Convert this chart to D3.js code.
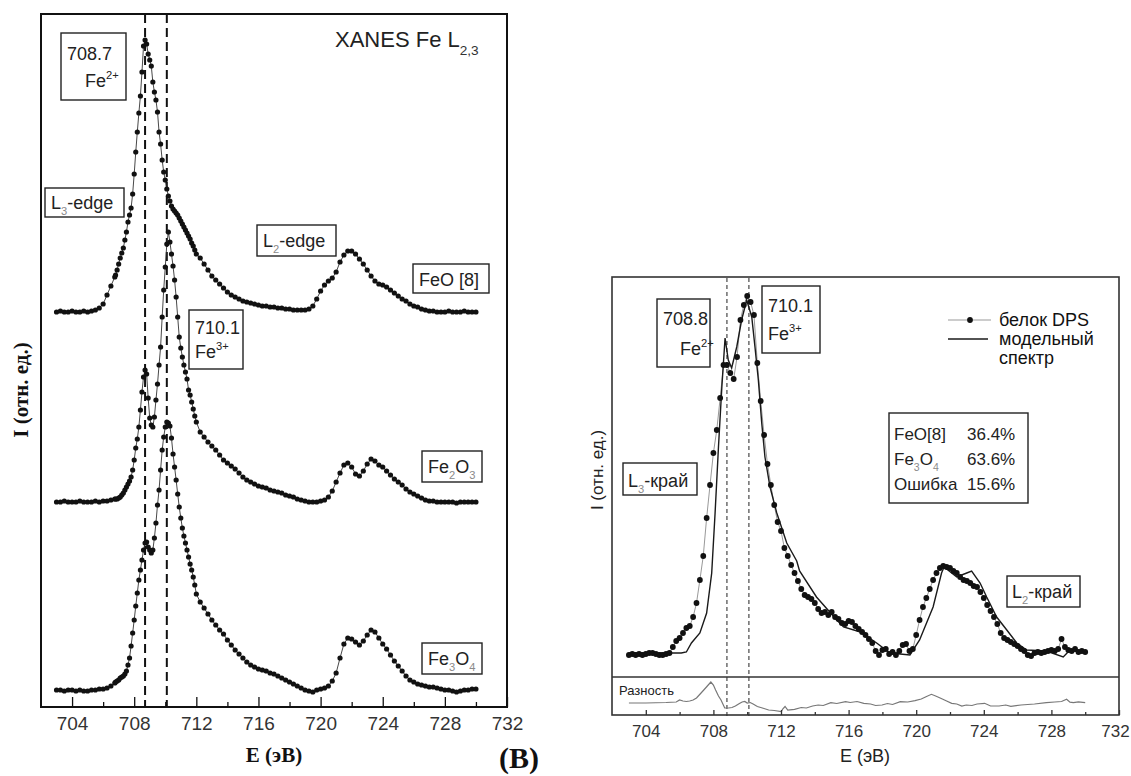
<!DOCTYPE html>
<html>
<head>
<meta charset="utf-8">
<script src="https://cdn.jsdelivr.net/npm/d3@7"></script>
<style>
  body { margin: 0; background: #fff; }
  svg { display: block; }
</style>
</head>
<body>
<svg id="chart" width="1131" height="776"></svg>
<script>
// ---------- data: left panel (reference spectra, shared energy grid) ----------
const energyL = [
  703, 703.25, 703.5, 703.75, 704, 704.25, 704.5, 704.75, 705, 705.25, 705.5, 705.75, 706, 706.25, 706.5, 706.75,
  706.8, 706.9,
  707, 707.1, 707.2, 707.3, 707.4, 707.5, 707.6, 707.7, 707.8, 707.9,
  708, 708.1, 708.2, 708.3, 708.4, 708.5, 708.6, 708.7, 708.8, 708.9,
  709, 709.1, 709.2, 709.3, 709.4, 709.5, 709.6, 709.7, 709.8, 709.9,
  710, 710.1, 710.2, 710.3, 710.4, 710.5, 710.6, 710.7, 710.8, 710.9,
  711, 711.1, 711.2, 711.3, 711.4, 711.5, 711.6, 711.7, 711.8, 711.9,
  712,
  712.25, 712.5, 712.75, 713, 713.25, 713.5, 713.75, 714, 714.25, 714.5, 714.75, 715, 715.25, 715.5, 715.75,
  716, 716.25, 716.5, 716.75, 717, 717.25, 717.5, 717.75, 718, 718.25, 718.5, 718.75, 719, 719.25, 719.5, 719.75,
  720, 720.25, 720.5, 720.75, 721, 721.25, 721.5, 721.75, 722, 722.25, 722.5, 722.75, 723, 723.25, 723.5, 723.75,
  724, 724.25, 724.5, 724.75, 725, 725.25, 725.5, 725.75, 726, 726.25, 726.5, 726.75, 727, 727.25, 727.5, 727.75,
  728, 728.25, 728.5, 728.75, 729, 729.25, 729.5, 729.75, 730
];

const feo = [
  0, 1, 0, 0, 1, 0, 0, 1, 0, 1, 2, 4, 8, 17, 26, 35,
  37, 42,
  48, 54, 59, 64, 72, 80, 90, 97, 104, 118,
  138, 160, 180, 199, 216, 240, 266, 272, 268, 258,
  252, 246, 230, 220, 212, 200, 180, 168, 152, 140,
  132, 123, 116, 111, 106, 103, 101, 99, 97, 94,
  91, 88, 85, 82, 79, 76, 73, 69, 66, 62,
  58,
  54, 48, 42, 36, 32, 28, 24, 20, 17, 15, 13, 11, 10, 9, 8,
  7, 6, 6, 5, 5, 4, 4, 3, 3, 2, 2, 2, 2, 3, 6, 13,
  21, 27, 31, 34, 40, 50, 57, 61, 61, 58, 53, 48, 42, 36, 31, 28,
  27, 25, 22, 19, 16, 13, 11, 8, 6, 5, 3, 2, 1, 1, 0, 0,
  0, 1, 0, 0, 0, 1, 0, 0, 0
];

const fe2o3 = [
  0, 0, 1, 0, 0, 0, 1, 0, 0, 0, 1, 0, 1, 1, 2, 3,
  3, 3,
  4, 5, 7, 9, 12, 15, 18, 21, 25, 32,
  42, 54, 63, 75, 92, 110, 125, 132, 128, 104,
  84, 77, 75, 85, 102, 118, 137, 155, 185, 212,
  235, 258, 270, 260, 248, 236, 222, 205, 185, 165,
  154, 145, 137, 130, 123, 112, 107, 100, 93, 86,
  80,
  70, 65, 60, 56, 52, 47, 42, 39, 36, 33, 29, 25, 22, 20, 18,
  16, 15, 14, 12, 11, 10, 9, 7, 6, 5, 3, 2, 1, 0, 0, 0,
  1, 2, 5, 11, 20, 29, 37, 39, 35, 28, 26, 31, 38, 43, 41, 37,
  35, 31, 27, 23, 20, 17, 13, 10, 8, 6, 4, 2, 1, 1, 0, 0,
  0, 0, 0, -1, 0, 0, 0, 0, 0
];

const fe3o4 = [
  0, 0, -1, 0, 0, -1, 0, -1, -1, 0, 0, 1, 1, 2, 4, 7,
  8, 9,
  10, 12, 13, 14, 16, 19, 25, 32, 44, 57,
  70, 84, 97, 110, 120, 130, 140, 147, 148, 143,
  140, 137, 140, 152, 167, 185, 200, 220, 240, 253,
  263, 268, 267, 264, 252, 236, 223, 210, 196, 183,
  172, 162, 154, 147, 140, 133, 126, 120, 113, 105,
  96,
  88, 82, 76, 70, 65, 60, 56, 50, 45, 40, 36, 32, 28, 25, 23,
  21, 20, 19, 17, 16, 14, 12, 10, 8, 6, 4, 2, 0, -1, -2, 0,
  1, 2, 4, 9, 17, 32, 46, 52, 51, 48, 45, 49, 55, 60, 58, 52,
  46, 41, 35, 29, 24, 19, 14, 10, 8, 6, 5, 4, 3, 3, 2, 1,
  0, 0, -1, -2, -1, 0, 0, 1, 1
];

const seriesNames = ["FeO [8]", "Fe2O3", "Fe3O4"];
const seriesOffsets = [395, 205, 17];

// ---------- data: right panel (DPS protein, model, difference) ----------
const dps = [
  [703.0, -2], [703.2, -1], [703.4, -2], [703.6, -1], [703.8, -2], [704.0, -1], [704.2, 0], [704.4, 0],
  [704.6, -1], [704.8, -2], [705.0, -2], [705.2, -1], [705.4, 0], [705.6, 6], [705.8, 12], [706.0, 15],
  [706.2, 20], [706.4, 25], [706.6, 27], [706.8, 36], [707.0, 50], [707.2, 73], [707.4, 97], [707.6, 135],
  [707.8, 168], [708.0, 200], [708.2, 223], [708.4, 255], [708.6, 288], [708.8, 288], [709.0, 280], [709.2, 274],
  [709.4, 296], [709.6, 333], [709.8, 348], [710.0, 357], [710.2, 351], [710.4, 338], [710.6, 290], [710.8, 252],
  [711.0, 218], [711.2, 189], [711.4, 168], [711.6, 148], [711.8, 131], [712.0, 122], [712.2, 105], [712.4, 97],
  [712.6, 88], [712.8, 80], [713.0, 72], [713.2, 64], [713.4, 58], [713.6, 56], [713.8, 54], [714.0, 50],
  [714.2, 44], [714.4, 40], [714.6, 41], [714.8, 38], [715.0, 41], [715.2, 36], [715.4, 34], [715.6, 30],
  [715.8, 29], [716.0, 32], [716.2, 31], [716.4, 27], [716.6, 24], [716.8, 21], [717.0, 18], [717.2, 14],
  [717.4, 10], [717.6, 2], [717.8, -2], [718.0, 3], [718.2, 4], [718.4, -1], [718.6, 1], [718.8, -2],
  [719.0, 2], [719.2, 8], [719.4, 9], [719.6, 2], [719.8, 4], [720.0, 18], [720.2, 33], [720.4, 46],
  [720.6, 55], [720.8, 64], [721.0, 73], [721.2, 80], [721.4, 85], [721.6, 87], [721.8, 86], [722.0, 85],
  [722.2, 82], [722.4, 80], [722.6, 76], [722.8, 73], [723.0, 72], [723.2, 70], [723.4, 67], [723.6, 66],
  [723.8, 61], [724.0, 55], [724.2, 48], [724.4, 42], [724.6, 36], [724.8, 29], [725.0, 20], [725.2, 15],
  [725.4, 13], [725.6, 11], [725.8, 9], [726.0, 7], [726.2, 4], [726.4, 2], [726.6, -2], [726.8, -3],
  [727.0, 0], [727.2, 1], [727.4, 0], [727.6, 1], [727.8, 2], [728.0, 3], [728.2, 2], [728.4, 4],
  [728.6, 14], [728.8, 6], [729.0, 3], [729.2, 2], [729.4, 4], [729.6, 1], [729.8, 2], [730.0, 1]
];

const model = [
  [703, 0], [706.1, 0], [706.4, 1], [706.7, 10], [707.2, 20], [707.6, 40], [707.9, 80], [708.1, 140],
  [708.3, 206], [708.5, 266], [708.69, 315], [708.88, 293], [709.08, 285], [709.38, 306], [709.67, 333],
  [709.97, 353], [710.27, 336], [710.46, 306], [710.66, 273], [710.86, 230], [711.05, 196], [711.35, 166],
  [711.75, 140], [712.34, 110], [712.93, 92], [713.1, 82], [714.1, 56], [715.3, 33], [715.7, 26], [716.7, 21],
  [717.66, 10], [718.45, 0], [719.63, -2], [720.2, 13], [721.0, 46], [721.5, 80], [721.65, 86], [722.4, 76],
  [722.99, 80], [723.28, 82], [723.78, 70], [724.17, 56], [724.76, 36], [725.36, 23], [725.95, 10],
  [726.54, 3], [727.7, 2], [728.7, -4], [729.1, 3], [730, 0]
];

const diff = [
  [703.0, 0], [704.0, 0], [705.2, 0.5], [705.8, 1], [706.0, 3], [706.2, 2], [706.4, 1.5], [706.6, 2],
  [706.8, 3], [707.0, 5], [707.27, 10], [707.59, 16], [707.85, 21], [708.0, 18], [708.13, 13], [708.3, 7],
  [708.45, 3], [708.67, -5], [708.9, -5], [709.1, -4.5], [709.3, -3], [709.54, -0.5], [709.7, 1], [709.86, 1.5],
  [710.0, 0], [710.18, 0.5], [710.35, -1], [710.6, -3.5], [710.9, -5], [711.27, -7], [711.6, -7.5], [712.02, -8.5],
  [712.1, -6], [712.24, -3.5], [712.4, -7], [712.8, -6.3], [713.2, -4.5], [713.5, -5], [713.87, -3], [714.2, -2],
  [714.5, -2.5], [714.95, 0.3], [715.3, -0.5], [715.82, 1.3], [716.1, 0.5], [716.5, 1.5], [716.9, -0.3], [717.3, -1],
  [717.6, -2.5], [717.98, -2], [718.3, -0.5], [718.6, -1.5], [719.06, 1.3], [719.5, 1], [719.93, 2.3], [720.3, 4],
  [720.58, 6.3], [720.9, 8.7], [721.15, 7], [721.45, 4.7], [721.8, 2], [722.1, -0.3], [722.4, -1], [722.7, -3],
  [722.96, -2], [723.3, -2.5], [723.6, -1], [724.05, -0.3], [724.4, -3], [724.9, -3], [725.3, -2], [725.6, -3.3],
  [726.2, -2], [726.6, -1.5], [727.0, -1], [727.7, 0.3], [728.2, 1], [728.6, 1.5], [728.9, 3.7], [729.1, 0.8],
  [729.3, 0.3], [729.6, 1.2], [730.0, 0.3]
];

const peaksL = [708.7, 710.1];
const peaksR = [708.8, 710.1];
const majorTicks = [704, 708, 712, 716, 720, 724, 728, 732];
const minorTicks = [706, 710, 714, 718, 722, 726, 730];
const fitRows = [["FeO[8]", "36.4%"], ["Fe3O4", "63.6%"], ["Ошибка", "15.6%"]];

// ---------- drawing ----------
const sans = "'Liberation Sans', Arial, sans-serif";
const serif = "'Liberation Serif', 'Times New Roman', serif";
const svg = d3.select("#chart");
svg.append("rect").attr("width", 1131).attr("height", 776).attr("fill", "#fff");

const xL = d3.scaleLinear().domain([702, 732]).range([41, 507]);
const yL = d3.scaleLinear().domain([0, 693]).range([707, 14]);
const xR = d3.scaleLinear().domain([702, 732]).range([612, 1119]);
const yR = d3.scaleLinear().domain([-24, 376]).range([677, 277]);
const yD = d3.scaleLinear().domain([-12, 26]).range([715, 677]);

// text with sub/superscripts: parts = [[text, ""|"sub"|"sup"], ...]
function rich(sel, x, y, parts, size, opts = {}) {
  const t = sel.append("text")
    .attr("x", x).attr("y", y)
    .attr("font-family", opts.family || sans)
    .attr("font-size", size)
    .attr("fill", opts.fill || "#222")
    .attr("text-anchor", opts.anchor || "start");
  let shift = 0;
  parts.forEach(([s, kind]) => {
    const target = kind === "sub" ? size * 0.35 : kind === "sup" ? -size * 0.45 : 0;
    t.append("tspan")
      .attr("dy", target - shift)
      .attr("font-size", kind ? size * 0.62 : size)
      .attr("fill", kind === "sub" ? (opts.subFill || "#8a8a8a") : null)
      .text(s);
    shift = target;
  });
  return t;
}

function box(sel, x0, y0, x1, y1, w) {
  sel.append("rect")
    .attr("x", x0).attr("y", y0)
    .attr("width", x1 - x0).attr("height", y1 - y0)
    .attr("fill", "#fff").attr("stroke", "#222").attr("stroke-width", w || 1.4);
}

function bottomTicks(sel, x, y0, lenMaj, lenMin, size, stroke) {
  sel.append("g")
    .attr("transform", `translate(0,${y0})`)
    .call(d3.axisBottom(x).tickValues(minorTicks).tickSize(-lenMin).tickFormat(""))
    .call(g => g.select(".domain").remove())
    .call(g => g.selectAll("line").attr("stroke", stroke).attr("stroke-width", 1.3));
  return sel.append("g")
    .attr("transform", `translate(0,${y0})`)
    .call(d3.axisBottom(x).tickValues(majorTicks).tickSize(-lenMaj).tickPadding(10).tickFormat(d3.format("d")))
    .call(g => g.select(".domain").remove())
    .call(g => g.selectAll("line").attr("stroke", stroke).attr("stroke-width", 1.3))
    .call(g => g.selectAll("text").attr("font-family", sans).attr("font-size", size).attr("fill", "#333"));
}

// ===== left panel =====
const left = svg.append("g");

left.append("g")
  .selectAll("line")
  .data(peaksL)
  .join("line")
    .attr("x1", d => xL(d)).attr("x2", d => xL(d))
    .attr("y1", 14).attr("y2", 707)
    .attr("stroke", "#111").attr("stroke-width", 2).attr("stroke-dasharray", "9,5");

[feo, fe2o3, fe3o4].forEach((vals, i) => {
  const pts = energyL.map((e, j) => [e, vals[j] + seriesOffsets[i]]);
  const g = left.append("g").attr("class", "series").attr("data-name", seriesNames[i]);
  g.append("path")
    .attr("d", d3.line().x(d => xL(d[0])).y(d => yL(d[1]))(pts))
    .attr("fill", "none").attr("stroke", "#333").attr("stroke-width", 0.9);
  g.selectAll("circle")
    .data(pts)
    .join("circle")
      .attr("cx", d => xL(d[0]))
      .attr("cy", d => yL(d[1]))
      .attr("r", 2.6)
      .attr("fill", "#111");
});

left.append("rect")
  .attr("x", 41).attr("y", 14).attr("width", 466).attr("height", 693)
  .attr("fill", "none").attr("stroke", "#111").attr("stroke-width", 2);

bottomTicks(left, xL, 707, 10, 5, 19, "#111");

rich(left, 335, 47, [["XANES Fe L", ""], ["2,3", "sub"]], 22, { subFill: "#333" });

box(left, 61, 33, 126, 100);
rich(left, 67, 60, [["708.7", ""]], 18);
rich(left, 85, 87, [["Fe", ""], ["2+", "sup"]], 18);

box(left, 45, 188, 124, 217);
rich(left, 51, 209, [["L", ""], ["3", "sub"], ["-edge", ""]], 18);

box(left, 257, 225, 336, 256);
rich(left, 263, 247, [["L", ""], ["2", "sub"], ["-edge", ""]], 18);

box(left, 413, 264, 489, 293);
rich(left, 419, 286, [["FeO [8]", ""]], 18);

box(left, 189, 310, 243, 369);
rich(left, 195, 334, [["710.1", ""]], 18);
rich(left, 195, 358, [["Fe", ""], ["3+", "sup"]], 18);

box(left, 422, 451, 482, 482);
rich(left, 428, 473, [["Fe", ""], ["2", "sub"], ["O", ""], ["3", "sub"]], 18);

box(left, 422, 643, 482, 674);
rich(left, 428, 665, [["Fe", ""], ["3", "sub"], ["O", ""], ["4", "sub"]], 18);

left.append("text")
  .attr("transform", "translate(28,390) rotate(-90)")
  .attr("text-anchor", "middle")
  .attr("font-family", serif).attr("font-weight", "bold").attr("font-size", 21)
  .attr("fill", "#111")
  .text("I (отн. ед.)");

left.append("text")
  .attr("x", 274).attr("y", 762)
  .attr("text-anchor", "middle")
  .attr("font-family", serif).attr("font-weight", "bold").attr("font-size", 21)
  .attr("fill", "#111")
  .text("E (эВ)");

svg.append("text")
  .attr("x", 519).attr("y", 768)
  .attr("text-anchor", "middle")
  .attr("font-family", serif).attr("font-weight", "bold").attr("font-size", 30)
  .attr("fill", "#111")
  .text("(B)");

// ===== right panel =====
const right = svg.append("g");

right.append("g")
  .selectAll("line")
  .data(peaksR)
  .join("line")
    .attr("x1", d => xR(d)).attr("x2", d => xR(d))
    .attr("y1", 278).attr("y2", 718)
    .attr("stroke", "#555").attr("stroke-width", 1.3).attr("stroke-dasharray", "4,3");

right.append("path")
  .attr("d", d3.line().x(d => xR(d[0])).y(d => yR(d[1]))(dps))
  .attr("fill", "none").attr("stroke", "#999").attr("stroke-width", 1);

right.append("path")
  .attr("d", d3.line().x(d => xR(d[0])).y(d => yR(d[1]))(model))
  .attr("fill", "none").attr("stroke", "#1a1a1a").attr("stroke-width", 1.4);

right.append("g")
  .selectAll("circle")
  .data(dps)
  .join("circle")
    .attr("cx", d => xR(d[0]))
    .attr("cy", d => yR(d[1]))
    .attr("r", 2.9)
    .attr("fill", "#111");

right.append("path")
  .attr("d", d3.line().x(d => xR(d[0])).y(d => yD(d[1]))(diff))
  .attr("fill", "none").attr("stroke", "#777").attr("stroke-width", 1.2);

right.append("rect")
  .attr("x", 612).attr("y", 277).attr("width", 507).attr("height", 438)
  .attr("fill", "none").attr("stroke", "#333").attr("stroke-width", 1.6);
right.append("line")
  .attr("x1", 612).attr("x2", 1119).attr("y1", 677).attr("y2", 677)
  .attr("stroke", "#333").attr("stroke-width", 1.6);

bottomTicks(right, xR, 715, 5, 3, 17, "#333")
  .selectAll("text")
  .filter(d => d === 732)
  .attr("dx", -4);

right.append("text")
  .attr("x", 619).attr("y", 695)
  .attr("font-family", sans).attr("font-size", 13).attr("fill", "#222")
  .text("Разность");

right.append("text")
  .attr("transform", "translate(603,470) rotate(-90)")
  .attr("text-anchor", "middle")
  .attr("font-family", sans).attr("font-size", 17).attr("fill", "#222")
  .text("I (отн. ед.)");

right.append("text")
  .attr("x", 865).attr("y", 762)
  .attr("text-anchor", "middle")
  .attr("font-family", sans).attr("font-size", 18).attr("fill", "#222")
  .text("E (эВ)");

box(right, 657, 299, 710, 367);
rich(right, 663, 325, [["708.8", ""]], 18);
rich(right, 680, 355, [["Fe", ""], ["2+", "sup"]], 18);

box(right, 762, 286, 820, 353);
rich(right, 768, 312, [["710.1", ""]], 18);
rich(right, 768, 340, [["Fe", ""], ["3+", "sup"]], 18);

box(right, 623, 463, 697, 495);
rich(right, 628, 487, [["L", ""], ["3", "sub"], ["-край", ""]], 18);

box(right, 1007, 576, 1080, 607);
rich(right, 1012, 598, [["L", ""], ["2", "sub"], ["-край", ""]], 18);

// legend
const legend = right.append("g");
legend.append("line").attr("x1", 948).attr("x2", 991).attr("y1", 320).attr("y2", 320)
  .attr("stroke", "#999").attr("stroke-width", 1);
legend.append("circle").attr("cx", 970).attr("cy", 320).attr("r", 2.9).attr("fill", "#111");
legend.append("line").attr("x1", 948).attr("x2", 988).attr("y1", 339).attr("y2", 339)
  .attr("stroke", "#1a1a1a").attr("stroke-width", 1.4);
rich(legend, 999, 326, [["белок DPS", ""]], 18, { fill: "#111" });
rich(legend, 999, 345, [["модельный", ""]], 18, { fill: "#111" });
rich(legend, 999, 364, [["спектр", ""]], 18, { fill: "#111" });

// fit result box
box(right, 889, 413, 1028, 503);
const rowY = [440, 465, 490];
fitRows.forEach((r, i) => {
  const label = r[0] === "Fe3O4"
    ? [["Fe", ""], ["3", "sub"], ["O", ""], ["4", "sub"]]
    : [[r[0], ""]];
  rich(right, 894, rowY[i], label, 17);
  rich(right, 967, rowY[i], [[r[1], ""]], 17);
});
</script>
</body>
</html>
